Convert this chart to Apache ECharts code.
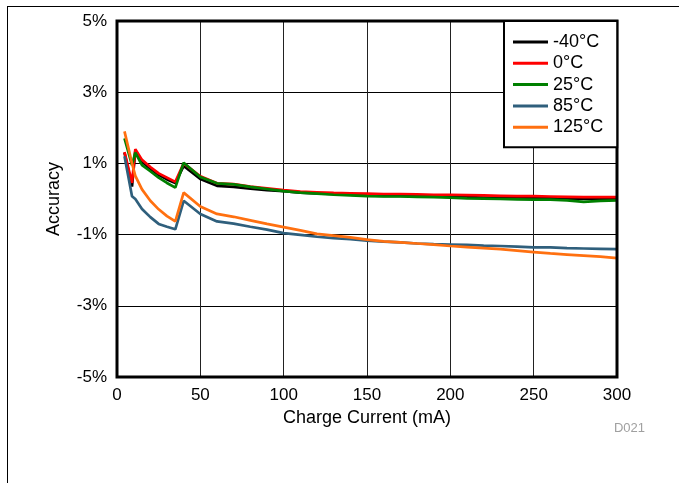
<!DOCTYPE html>
<html>
<head>
<meta charset="utf-8">
<script src="https://cdn.jsdelivr.net/npm/echarts@6/dist/echarts.min.js"></script>
<style>
html,body{margin:0;padding:0;background:#fff;}
#chart{width:679px;height:483px;}
</style>
</head>
<body>
<div id="chart"></div>
<script>
// Charge current (mA)
const current = [4.5, 9, 11, 15, 20, 25, 30, 35, 40, 50, 60, 70, 80, 90, 100, 110, 120, 130, 140, 150, 160, 170, 180, 190, 200, 210, 220, 230, 240, 250, 260, 270, 280, 290, 300];
// Accuracy (%) per temperature
const accM40 = [1.30, 0.35, 1.35, 1.05, 0.85, 0.68, 0.55, 0.45, 0.93, 0.56, 0.37, 0.34, 0.29, 0.25, 0.22, 0.18, 0.16, 0.14, 0.12, 0.10, 0.09, 0.09, 0.08, 0.07, 0.06, 0.05, 0.04, 0.03, 0.02, 0.02, 0.03, 0.01, 0.00, 0.00, 0.00];
const acc0   = [1.32, 0.45, 1.40, 1.10, 0.90, 0.72, 0.60, 0.48, 1.00, 0.64, 0.44, 0.42, 0.35, 0.30, 0.25, 0.21, 0.19, 0.17, 0.16, 0.15, 0.14, 0.14, 0.13, 0.12, 0.12, 0.11, 0.10, 0.09, 0.08, 0.08, 0.07, 0.06, 0.05, 0.05, 0.05];
const acc25  = [1.70, 0.95, 1.30, 0.95, 0.78, 0.60, 0.45, 0.32, 1.02, 0.62, 0.44, 0.41, 0.34, 0.28, 0.22, 0.18, 0.15, 0.12, 0.10, 0.08, 0.07, 0.07, 0.06, 0.05, 0.04, 0.02, 0.01, 0.00, -0.01, -0.02, -0.02, -0.04, -0.08, -0.05, -0.04];
const acc85  = [1.20, 0.08, 0.00, -0.28, -0.51, -0.70, -0.78, -0.85, -0.05, -0.42, -0.63, -0.69, -0.78, -0.86, -0.96, -1.01, -1.06, -1.10, -1.13, -1.17, -1.20, -1.22, -1.25, -1.27, -1.28, -1.29, -1.31, -1.32, -1.34, -1.36, -1.36, -1.38, -1.39, -1.40, -1.41];
const acc125 = [1.90, 1.00, 0.65, 0.27, -0.05, -0.29, -0.48, -0.63, 0.18, -0.21, -0.42, -0.50, -0.60, -0.70, -0.79, -0.88, -0.98, -1.03, -1.08, -1.14, -1.19, -1.22, -1.25, -1.28, -1.32, -1.35, -1.38, -1.41, -1.45, -1.49, -1.53, -1.56, -1.59, -1.62, -1.66];
const seriesNames = ['-40°C', '0°C', '25°C', '85°C', '125°C'];
const seriesData = [accM40, acc0, acc25, acc85, acc125];
const colors = ['#000000', '#ff0000', '#008000', '#2f5f7c', '#ff7010'];
const xTicks = [0, 50, 100, 150, 200, 250, 300];
const yTicks = [-5, -3, -1, 1, 3, 5];

const FONT = 'Liberation Sans, Arial, sans-serif';
const chart = echarts.init(document.getElementById('chart'), null, {renderer: 'canvas'});
chart.setOption({
  backgroundColor: '#fff',
  animation: false,
  textStyle: {fontFamily: FONT},
  grid: {left: 117, right: 62, top: 21, bottom: 106, show: true, borderColor: '#000', borderWidth: 3, z: 3},
  xAxis: {
    type: 'value', min: xTicks[0], max: xTicks[xTicks.length - 1], interval: 50,
    name: 'Charge Current (mA)', nameLocation: 'middle', nameGap: 31,
    nameTextStyle: {fontSize: 18, color: '#000', fontFamily: FONT},
    axisLine: {show: false}, axisTick: {show: false},
    axisLabel: {fontSize: 17, color: '#000', margin: 10, fontFamily: FONT},
    splitLine: {show: true, lineStyle: {color: '#222', width: 1}}
  },
  yAxis: {
    type: 'value', min: yTicks[0], max: yTicks[yTicks.length - 1], interval: 2,
    name: 'Accuracy', nameLocation: 'middle', nameGap: 54, nameRotate: 90,
    nameTextStyle: {fontSize: 18, color: '#000', fontFamily: FONT},
    axisLine: {show: false}, axisTick: {show: false},
    axisLabel: {fontSize: 17, color: '#000', margin: 10, fontFamily: FONT, formatter: v => v + '%'},
    splitLine: {show: true, lineStyle: {color: '#000', width: 1}}
  },
  legend: {
    orient: 'vertical', left: 504, top: 21,
    padding: [12, 14, 11, 9], itemGap: 3.3,
    itemWidth: 35, itemHeight: 3, icon: 'rect',
    backgroundColor: '#fff', borderColor: '#000', borderWidth: 2,
    textStyle: {fontSize: 18, color: '#000', fontFamily: FONT, lineHeight: 18, padding: [0, 0, 0, 0]},
    data: seriesNames
  },
  series: seriesNames.map((n, i) => ({
    name: n, type: 'line', showSymbol: false, symbol: 'none',
    data: current.map((c, j) => [c, seriesData[i][j]]),
    lineStyle: {color: colors[i], width: 2.7},
    itemStyle: {color: colors[i]},
    z: 2 + i * 0.01
  })),
  graphic: [
    {type: 'line', shape: {x1: 7, y1: 6.5, x2: 679, y2: 6.5}, style: {stroke: '#000', lineWidth: 1}},
    {type: 'line', shape: {x1: 7.5, y1: 6, x2: 7.5, y2: 483}, style: {stroke: '#000', lineWidth: 1}},
    {type: 'text', right: 34, top: 422, style: {text: 'D021', fill: '#a0a0a0', fontSize: 13, fontFamily: FONT}}
  ]
});
</script>
</body>
</html>
